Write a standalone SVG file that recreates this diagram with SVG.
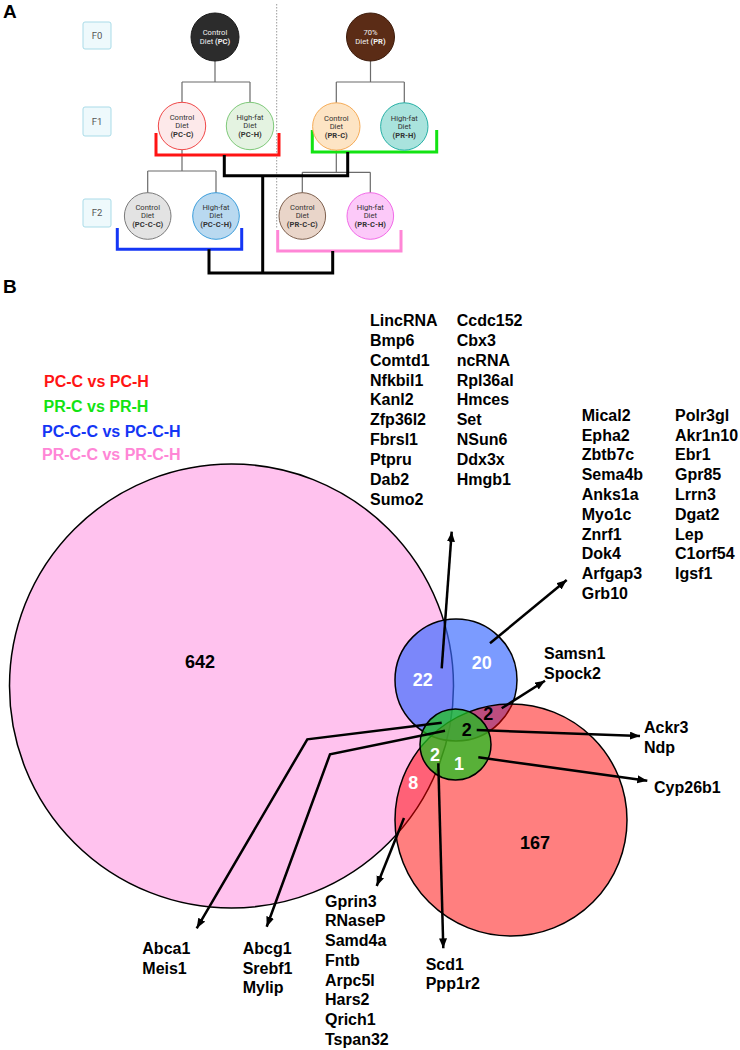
<svg xmlns="http://www.w3.org/2000/svg" width="740" height="1050" viewBox="0 0 740 1050">
<defs>
<marker id="arr" markerUnits="userSpaceOnUse" markerWidth="12" markerHeight="10" refX="10" refY="4" orient="auto">
<path d="M0,0 L10,4 L0,8 Z" fill="#000"/>
</marker>
<style>
.pl{font-family:"Liberation Sans",Arial,sans-serif;font-weight:bold;font-size:19px;fill:#000}
.fbox{fill:#eef9fc;stroke:#a9dbe8;stroke-width:1}
.ft{font-family:Roboto,"Liberation Sans",sans-serif;font-size:9.5px;fill:#555;text-anchor:middle}
.ct{font-family:Roboto,"Liberation Sans",sans-serif;font-size:7.6px;fill:#333;text-anchor:middle}
.ctw{font-family:Roboto,"Liberation Sans",sans-serif;font-size:7.6px;fill:#f2f2f2;text-anchor:middle}
.b{font-weight:bold}
.tree{fill:none;stroke:#6b6b6b;stroke-width:1.2}
.br{fill:none;stroke-width:3}
.lg{font-family:"Liberation Sans",Arial,sans-serif;font-weight:bold;font-size:16px}
.gene{font-family:"Liberation Sans",Arial,sans-serif;font-weight:bold;font-size:16px;fill:#000}
.num{font-family:"Liberation Sans",Arial,sans-serif;font-weight:bold;font-size:18px;text-anchor:middle}
.arw{fill:none;stroke:#000;stroke-width:2.5;marker-end:url(#arr)}
</style>
</defs>
<rect width="740" height="1050" fill="#fff"/>

<text class="pl" x="3" y="18">A</text>
<text class="pl" x="3" y="293">B</text>

<!-- Panel A generation boxes -->
<g id="box-F0"><rect class="fbox" x="83" y="22" width="28" height="27" rx="2"/><text class="ft" x="97" y="38.8">F0</text></g>
<g id="box-F1"><rect class="fbox" x="83" y="107" width="28" height="29" rx="2"/><text class="ft" x="97" y="124.8">F1</text></g>
<g id="box-F2"><rect class="fbox" x="83" y="199" width="28" height="28" rx="2"/><text class="ft" x="97" y="216.3">F2</text></g>

<!-- Panel A connectors -->
<g id="panelA-connectors">
<line x1="276.7" y1="4" x2="276.7" y2="229" stroke="#9a9a9a" stroke-width="1" stroke-dasharray="1.5 1.5"/>
<path class="tree" d="M215,61 V82 M182,82 H250 M182,82 V102.5 M250,82 V102.5"/>
<path class="tree" d="M370.5,61 V82 M336.3,82 H404.3 M336.3,82 V103 M404.3,82 V103"/>
<path class="tree" d="M182,150 V171 M147.7,171 H216 M147.7,171 V193 M216,171 V193"/>
<path class="tree" d="M336.3,150 V172.3 M302.3,172.3 H370.3 M302.3,172.3 V193 M370.3,172.3 V193"/>
<path class="br" stroke="#ff1414" d="M156,133 V155 H279 V133"/>
<path class="br" stroke="#12e312" d="M312.3,130 V152 H436.7 V130"/>
<path class="br" stroke="#1436f5" d="M117.3,228 V249.3 H241.7 V228"/>
<path class="br" stroke="#ff86d6" d="M277.7,230 V251 H401 V230"/>
<path class="br" stroke="#000" d="M224.3,155 V175.7 H347.7 V152 M262.7,175.7 V273 M209,249.3 V273 H332.7 V251"/>
</g>

<!-- Panel A nodes -->
<g id="node-PC"><circle cx="215" cy="37" r="24" fill="#2c2c2c" stroke="#1a1a1a"/><text class="ctw" x="215" y="35.4">Control</text><text class="ctw" x="215" y="44">Diet <tspan class="b">(PC)</tspan></text></g>
<g id="node-PR"><circle cx="370.5" cy="37" r="24" fill="#5b2c16" stroke="#3d1c0c"/><text class="ctw" x="370.5" y="35.4">70%</text><text class="ctw" x="370.5" y="44">Diet <tspan class="b">(PR)</tspan></text></g>

<g id="node-PC-C"><circle cx="182" cy="126" r="23.7" fill="#fde9ea" stroke="#f04848"/><text class="ct" x="182" y="120">Control</text><text class="ct" x="182" y="128.4">Diet</text><text class="ct b" x="182" y="137">(PC-C)</text></g>
<g id="node-PC-H"><circle cx="250" cy="126" r="23.7" fill="#e4f3e1" stroke="#7fc97a"/><text class="ct" x="250" y="120">High-fat</text><text class="ct" x="250" y="128.4">Diet</text><text class="ct b" x="250" y="137">(PC-H)</text></g>
<g id="node-PR-C"><circle cx="336.3" cy="126.5" r="23.7" fill="#fde4c4" stroke="#f6ac58"/><text class="ct" x="336.3" y="120.5">Control</text><text class="ct" x="336.3" y="128.9">Diet</text><text class="ct b" x="336.3" y="137.5">(PR-C)</text></g>
<g id="node-PR-H"><circle cx="404.3" cy="126.5" r="23.7" fill="#a9e3dd" stroke="#26b0a6"/><text class="ct" x="404.3" y="120.5">High-fat</text><text class="ct" x="404.3" y="128.9">Diet</text><text class="ct b" x="404.3" y="137.5">(PR-H)</text></g>

<g id="node-PC-C-C"><circle cx="147.7" cy="216" r="23.3" fill="#e3e3e3" stroke="#7a7a7a"/><text class="ct" x="147.7" y="210">Control</text><text class="ct" x="147.7" y="218.4">Diet</text><text class="ct b" x="147.7" y="226.7">(PC-C-C)</text></g>
<g id="node-PC-C-H"><circle cx="216" cy="216" r="23.3" fill="#b9d9f0" stroke="#3b9ddb"/><text class="ct" x="216" y="210">High-fat</text><text class="ct" x="216" y="218.4">Diet</text><text class="ct b" x="216" y="226.7">(PC-C-H)</text></g>
<g id="node-PR-C-C"><circle cx="302.3" cy="216" r="23.3" fill="#e9d5c9" stroke="#7d5f4d"/><text class="ct" x="302.3" y="210">Control</text><text class="ct" x="302.3" y="218.4">Diet</text><text class="ct b" x="302.3" y="226.7">(PR-C-C)</text></g>
<g id="node-PR-C-H"><circle cx="370.3" cy="216" r="23.3" fill="#fcc9f9" stroke="#f26ae8"/><text class="ct" x="370.3" y="210">High-fat</text><text class="ct" x="370.3" y="218.4">Diet</text><text class="ct b" x="370.3" y="226.7">(PR-C-H)</text></g>

<!-- Legend -->
<g id="legend">
<text class="lg" x="44" y="386.5" fill="#ff1414">PC-C vs PC-H</text>
<text class="lg" x="43.5" y="411.5" fill="#12e312">PR-C vs PR-H</text>
<text class="lg" x="42" y="436.5" fill="#1436f5">PC-C-C vs PC-C-H</text>
<text class="lg" x="42" y="460" fill="#ff86d6">PR-C-C vs PR-C-H</text>
</g>

<!-- Venn sets -->
<g id="set-PR-C-C-vs-PR-C-H"><circle cx="231.5" cy="686" r="222" fill="#ffc2ee" stroke="#000" stroke-width="1.5"/></g>
<g id="set-PC-C-C-vs-PC-C-H"><circle cx="456" cy="680" r="61" fill="#3a6aff" fill-opacity="0.67" stroke="#000" stroke-width="1.5"/></g>
<g id="set-PC-C-vs-PC-H"><circle cx="511" cy="820" r="116" fill="#ff0000" fill-opacity="0.5" stroke="#000" stroke-width="1.5"/></g>
<g id="set-PR-C-vs-PR-H"><circle cx="455.5" cy="744.5" r="35.5" fill="#20c020" fill-opacity="0.75" stroke="#000" stroke-width="1.5"/></g>

<g id="venn-counts">
<text class="num" x="200" y="667.5" fill="#000">642</text>
<text class="num" x="535" y="848.5" fill="#000">167</text>
<text class="num" x="422.7" y="685.5" fill="#fff">22</text>
<text class="num" x="481.7" y="669" fill="#fff">20</text>
<text class="num" x="488.3" y="719.8" fill="#000">2</text>
<text class="num" x="466.7" y="735.5" fill="#000">2</text>
<text class="num" x="435" y="760.5" fill="#fff">2</text>
<text class="num" x="459" y="770" fill="#fff">1</text>
<text class="num" x="413.3" y="789" fill="#fff">8</text>
</g>

<!-- Venn connectors -->
<g id="venn-connectors">
<line class="arw" x1="441.7" y1="668.3" x2="451.7" y2="531.7"/>
<line class="arw" x1="490" y1="643.3" x2="566.7" y2="580"/>
<line class="arw" x1="501.7" y1="708.3" x2="545" y2="680.7"/>
<line class="arw" x1="476.7" y1="730" x2="640" y2="736"/>
<line class="arw" x1="478.3" y1="757.3" x2="647.3" y2="780.7"/>
<line class="arw" x1="438.3" y1="763.3" x2="443.3" y2="948.3"/>
<line class="arw" x1="404" y1="818" x2="376.7" y2="886"/>
<polyline class="arw" points="441.7,722.7 307.3,739.3 196.7,928.3"/>
<polyline class="arw" points="445,730.7 330,754.3 266.7,926.7"/>
</g>

<!-- Gene lists -->
<g id="genes-blue-only">
<text class="gene" x="370" y="325.8"><tspan x="370">LincRNA</tspan><tspan x="370" dy="19.9">Bmp6</tspan><tspan x="370" dy="19.9">Comtd1</tspan><tspan x="370" dy="19.9">Nfkbil1</tspan><tspan x="370" dy="19.9">Kanl2</tspan><tspan x="370" dy="19.9">Zfp36l2</tspan><tspan x="370" dy="19.9">Fbrsl1</tspan><tspan x="370" dy="19.9">Ptpru</tspan><tspan x="370" dy="19.9">Dab2</tspan><tspan x="370" dy="19.9">Sumo2</tspan></text>
<text class="gene" x="456.7" y="325.8"><tspan x="456.7">Ccdc152</tspan><tspan x="456.7" dy="19.9">Cbx3</tspan><tspan x="456.7" dy="19.9">ncRNA</tspan><tspan x="456.7" dy="19.9">Rpl36al</tspan><tspan x="456.7" dy="19.9">Hmces</tspan><tspan x="456.7" dy="19.9">Set</tspan><tspan x="456.7" dy="19.9">NSun6</tspan><tspan x="456.7" dy="19.9">Ddx3x</tspan><tspan x="456.7" dy="19.9">Hmgb1</tspan></text>
</g>
<g id="genes-blue-right">
<text class="gene" x="581.7" y="420.8"><tspan x="581.7">Mical2</tspan><tspan x="581.7" dy="19.8">Epha2</tspan><tspan x="581.7" dy="19.8">Zbtb7c</tspan><tspan x="581.7" dy="19.8">Sema4b</tspan><tspan x="581.7" dy="19.8">Anks1a</tspan><tspan x="581.7" dy="19.8">Myo1c</tspan><tspan x="581.7" dy="19.8">Znrf1</tspan><tspan x="581.7" dy="19.8">Dok4</tspan><tspan x="581.7" dy="19.8">Arfgap3</tspan><tspan x="581.7" dy="19.8">Grb10</tspan></text>
<text class="gene" x="675" y="420.8"><tspan x="675">Polr3gl</tspan><tspan x="675" dy="19.8">Akr1n10</tspan><tspan x="675" dy="19.8">Ebr1</tspan><tspan x="675" dy="19.8">Gpr85</tspan><tspan x="675" dy="19.8">Lrrn3</tspan><tspan x="675" dy="19.8">Dgat2</tspan><tspan x="675" dy="19.8">Lep</tspan><tspan x="675" dy="19.8">C1orf54</tspan><tspan x="675" dy="19.8">Igsf1</tspan></text>
</g>
<g id="genes-blue-red"><text class="gene" x="544" y="658.5"><tspan x="544">Samsn1</tspan><tspan x="544" dy="20.6">Spock2</tspan></text></g>
<g id="genes-ackr3"><text class="gene" x="644" y="732.5"><tspan x="644">Ackr3</tspan><tspan x="644" dy="20">Ndp</tspan></text></g>
<g id="genes-cyp"><text class="gene" x="654" y="792.5">Cyp26b1</text></g>
<g id="genes-abca1"><text class="gene" x="142.3" y="954"><tspan x="142.3">Abca1</tspan><tspan x="142.3" dy="19.5">Meis1</tspan></text></g>
<g id="genes-abcg1"><text class="gene" x="242.7" y="954"><tspan x="242.7">Abcg1</tspan><tspan x="242.7" dy="19.5">Srebf1</tspan><tspan x="242.7" dy="19.5">Mylip</tspan></text></g>
<g id="genes-gprin3"><text class="gene" x="325" y="906.5"><tspan x="325">Gprin3</tspan><tspan x="325" dy="19.75">RNaseP</tspan><tspan x="325" dy="19.75">Samd4a</tspan><tspan x="325" dy="19.75">Fntb</tspan><tspan x="325" dy="19.75">Arpc5l</tspan><tspan x="325" dy="19.75">Hars2</tspan><tspan x="325" dy="19.75">Qrich1</tspan><tspan x="325" dy="19.75">Tspan32</tspan></text></g>
<g id="genes-scd1"><text class="gene" x="425.7" y="970"><tspan x="425.7">Scd1</tspan><tspan x="425.7" dy="19">Ppp1r2</tspan></text></g>
</svg>
